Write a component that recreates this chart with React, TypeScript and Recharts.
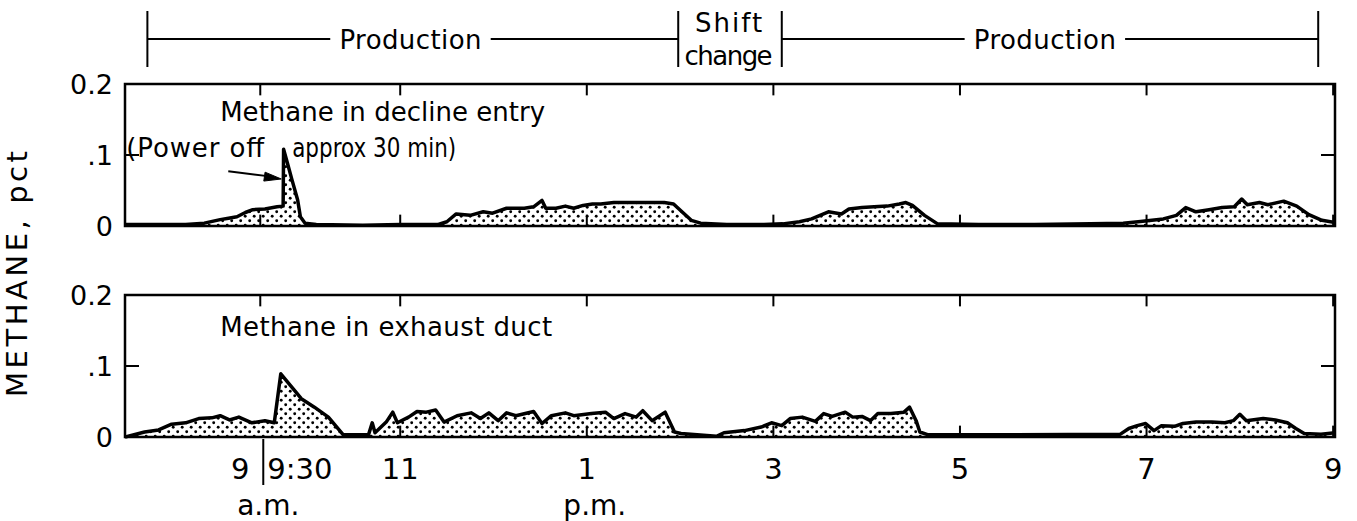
import React from "react";
import {
  AreaChart,
  Area,
  LineChart,
  Line,
  XAxis,
  YAxis,
  ReferenceLine,
  ReferenceArea,
  ReferenceDot,
} from "recharts";

const WIDTH = 1357;
const T_START = 8.05;
const T_END = 21.02;
const INK = "#000";
const FONT = "'DejaVu Sans', sans-serif";

// time of day on a 24 h clock
const hourTicks = [9.5, 11, 13, 15, 17, 19, 21];
const hourLabels = ["9:30", "11", "1", "3", "5", "7", "9"];
const periodLabels: Record<number, string> = { 9.5: "a.m.", 13: "p.m." };
const pctTicks = [0, 0.1, 0.2];
const pctLabels = ["0", ".1", "0.2"];

// production / shift change / production
const scheduleBounds = [8.29, 13.98, 15.09, 20.84];
const productionCenters = [11.11, 17.91];
const productionGap = 0.86;

// [hour, pct]
const declineEntry: [number, number][] = [
  [8.05, 0.002], [8.4, 0.002], [8.7, 0.002], [8.9, 0.004], [9.07, 0.009],
  [9.16, 0.011], [9.25, 0.013], [9.34, 0.019], [9.42, 0.023], [9.55, 0.024],
  [9.68, 0.027], [9.745, 0.028], [9.75, 0.108], [9.79, 0.089], [9.84, 0.065],
  [9.9, 0.037], [9.93, 0.013], [9.98, 0.004], [10.1, 0.002], [10.6, 0.001],
  [11.0, 0.002], [11.4, 0.002], [11.5, 0.006], [11.6, 0.017], [11.75, 0.015],
  [11.89, 0.02], [11.99, 0.018], [12.14, 0.025], [12.33, 0.025], [12.43, 0.027],
  [12.52, 0.036], [12.56, 0.025], [12.67, 0.025], [12.77, 0.028], [12.86, 0.025],
  [12.96, 0.029], [13.06, 0.031], [13.15, 0.031], [13.29, 0.033], [13.44, 0.033],
  [13.83, 0.033], [13.93, 0.031], [14.02, 0.02], [14.12, 0.008], [14.22, 0.004],
  [14.5, 0.002], [14.9, 0.002], [15.1, 0.003], [15.28, 0.006], [15.41, 0.01],
  [15.59, 0.02], [15.73, 0.017], [15.81, 0.024], [15.95, 0.026], [16.08, 0.027],
  [16.22, 0.028], [16.35, 0.031], [16.42, 0.033], [16.49, 0.029], [16.62, 0.015],
  [16.76, 0.003], [17.2, 0.002], [17.8, 0.002], [18.4, 0.003], [18.75, 0.004],
  [18.91, 0.006], [19.18, 0.01], [19.32, 0.015], [19.42, 0.026], [19.53, 0.02],
  [19.67, 0.023], [19.81, 0.026], [19.94, 0.027], [20.02, 0.038], [20.08, 0.03],
  [20.21, 0.033], [20.3, 0.03], [20.47, 0.035], [20.61, 0.028], [20.74, 0.016],
  [20.88, 0.008], [21.02, 0.005],
];

const exhaustDuct: [number, number][] = [
  [8.05, 0.0], [8.26, 0.007], [8.41, 0.01], [8.55, 0.018], [8.7, 0.02],
  [8.84, 0.026], [8.98, 0.027], [9.07, 0.03], [9.17, 0.024], [9.27, 0.028],
  [9.41, 0.02], [9.55, 0.023], [9.65, 0.02], [9.72, 0.089], [9.84, 0.07],
  [9.94, 0.054], [10.08, 0.042], [10.23, 0.028], [10.39, 0.003], [10.66, 0.003],
  [10.7, 0.02], [10.73, 0.006], [10.85, 0.021], [10.92, 0.035], [10.97, 0.02],
  [11.09, 0.028], [11.18, 0.036], [11.28, 0.035], [11.38, 0.038], [11.47, 0.021],
  [11.61, 0.03], [11.76, 0.034], [11.86, 0.026], [11.95, 0.034], [12.05, 0.023],
  [12.14, 0.034], [12.24, 0.03], [12.43, 0.036], [12.52, 0.019], [12.62, 0.03],
  [12.77, 0.034], [12.86, 0.03], [13.05, 0.033], [13.2, 0.035], [13.29, 0.026],
  [13.41, 0.033], [13.53, 0.028], [13.6, 0.037], [13.7, 0.023], [13.84, 0.035],
  [13.94, 0.007], [14.01, 0.005], [14.39, 0.001], [14.47, 0.006], [14.69, 0.009],
  [14.87, 0.014], [14.98, 0.02], [15.09, 0.016], [15.18, 0.026], [15.31, 0.028],
  [15.45, 0.022], [15.54, 0.033], [15.63, 0.029], [15.77, 0.035], [15.85, 0.028],
  [15.95, 0.029], [16.04, 0.023], [16.12, 0.033], [16.26, 0.033], [16.4, 0.035],
  [16.46, 0.042], [16.53, 0.023], [16.57, 0.007], [16.66, 0.003], [17.5, 0.003],
  [18.72, 0.004], [18.81, 0.012], [18.9, 0.016], [18.99, 0.019], [19.08, 0.009],
  [19.16, 0.016], [19.3, 0.015], [19.39, 0.019], [19.53, 0.021], [19.7, 0.021],
  [19.84, 0.02], [19.93, 0.023], [20.0, 0.032], [20.07, 0.023], [20.25, 0.026],
  [20.38, 0.024], [20.51, 0.02], [20.6, 0.012], [20.69, 0.005], [20.87, 0.004],
  [21.02, 0.006],
];

const toRows = (pts: [number, number][]) => pts.map(([t, v]) => ({ t, v }));

// bracket drawn as one broken line; null rows lift the pen
const scheduleRows = (() => {
  const rows: { t: number; y: number | null }[] = [];
  const spans = [
    [scheduleBounds[0], scheduleBounds[1]],
    [scheduleBounds[2], scheduleBounds[3]],
  ];
  spans.forEach(([a, b], i) => {
    const c = productionCenters[i];
    rows.push({ t: a, y: 0 }, { t: a, y: 1 }, { t: a, y: null });
    rows.push({ t: a, y: 0.5 }, { t: c - productionGap, y: 0.5 }, { t: c, y: null });
    rows.push({ t: c + productionGap, y: 0.5 }, { t: b, y: 0.5 }, { t: b, y: null });
    rows.push({ t: b, y: 0 }, { t: b, y: 1 }, { t: b, y: null });
  });
  return rows;
})();

type TextOpts = {
  anchor?: "start" | "middle" | "end";
  size?: number;
  length?: number;
  squeeze?: boolean;
};

const textLabel =
  (text: string, { anchor = "start", size = 26, length, squeeze }: TextOpts = {}) =>
  (props: any) => {
    const vb = props.viewBox ?? {};
    const x = (vb.x ?? 0) + (vb.width ?? 0) / 2;
    const y = (vb.y ?? 0) + (vb.height ?? 0) / 2;
    return (
      <text
        x={x}
        y={y}
        textAnchor={anchor}
        fontSize={size}
        fontFamily={FONT}
        fill={INK}
        textLength={length}
        lengthAdjust={squeeze ? "spacingAndGlyphs" : "spacing"}
      >
        {text}
      </text>
    );
  };

function HourTick({ x, y, payload }: any) {
  const v = payload.value;
  const label = hourLabels[hourTicks.indexOf(v)];
  const period = periodLabels[v];
  const txt = { fill: INK, fontSize: 29, fontFamily: FONT };
  if (v === 9.5) {
    return (
      <g>
        <line x1={x + 3} y1={y} x2={x + 3} y2={y + 46} stroke={INK} strokeWidth={2} />
        <text x={x - 20} y={y + 40} textAnchor="middle" {...txt}>9</text>
        <text x={x + 7} y={y + 40} textAnchor="start" {...txt}>{label}</text>
        <text x={x + 8} y={y + 76} textAnchor="middle" {...txt} fontSize={28}>{period}</text>
      </g>
    );
  }
  return (
    <g>
      <text x={x} y={y + 40} textAnchor="middle" {...txt}>{label}</text>
      {period && (
        <text x={x + 8} y={y + 76} textAnchor="middle" {...txt} fontSize={28}>{period}</text>
      )}
    </g>
  );
}

// arrowhead pointing along the shaft direction
const arrowHead = (p: any) => {
  const { cx, cy } = p;
  const a = Math.atan2(7.6, 53.7);
  const len = 17;
  const half = 4.5;
  const bx = cx - len * Math.cos(a);
  const by = cy - len * Math.sin(a);
  const px = -Math.sin(a) * half;
  const py = Math.cos(a) * half;
  return (
    <path
      d={`M${cx},${cy} L${bx + px},${by + py} L${bx - px},${by - py} Z`}
      fill={INK}
      stroke={INK}
      strokeWidth={1}
    />
  );
};

function Panel({
  id,
  points,
  top,
  withAxis,
  children,
}: {
  id: string;
  points: [number, number][];
  top: number;
  withAxis: boolean;
  children?: React.ReactNode;
}) {
  const innerX = hourTicks.filter((t) => t < T_END);
  const tickY = 0.016;
  const tickX = 0.15;
  return (
    <div style={{ position: "absolute", left: 0, top }}>
      <AreaChart
        width={WIDTH}
        height={withAxis ? 240 : 174}
        data={toRows(points)}
        margin={{ top: 14, right: 22, bottom: withAxis ? 0 : 18, left: 65 }}
      >
        <defs>
          <pattern id={id} width={9} height={9} patternUnits="userSpaceOnUse">
            <rect width={9} height={9} fill="#fff" />
            <circle cx={2.2} cy={2.2} r={1.45} fill={INK} />
            <circle cx={6.7} cy={6.7} r={1.45} fill={INK} />
          </pattern>
        </defs>
        <XAxis
          dataKey="t"
          type="number"
          domain={[T_START, T_END]}
          ticks={hourTicks}
          interval={0}
          allowDataOverflow
          hide={!withAxis}
          height={84}
          axisLine={false}
          tickLine={false}
          tickSize={0}
          tick={(p: any) => <HourTick {...p} />}
        />
        <YAxis
          type="number"
          domain={[0, 0.2]}
          ticks={pctTicks}
          interval={0}
          width={60}
          axisLine={false}
          tickLine={false}
          tickSize={0}
          tickMargin={12}
          tick={{ fill: INK, fontSize: 27, fontFamily: FONT }}
          tickFormatter={(v: number) => pctLabels[pctTicks.indexOf(v)] ?? ""}
        />
        <Area
          type="linear"
          dataKey="v"
          stroke={INK}
          strokeWidth={3.5}
          strokeLinejoin="round"
          fill={`url(#${id})`}
          fillOpacity={1}
          dot={false}
          activeDot={false}
          isAnimationActive={false}
        />
        <ReferenceArea
          x1={T_START}
          x2={T_END}
          y1={0}
          y2={0.2}
          fill="none"
          fillOpacity={0}
          stroke={INK}
          strokeWidth={2.5}
          ifOverflow="visible"
        />
        {innerX.map((t) => (
          <ReferenceLine
            key={`top-${t}`}
            segment={[{ x: t, y: 0.2 }, { x: t, y: 0.2 - tickY }]}
            stroke={INK}
            strokeWidth={2}
          />
        ))}
        {innerX
          .filter((t) => !(withAxis && t === 9.5))
          .map((t) => (
            <ReferenceLine
              key={`bot-${t}`}
              segment={[{ x: t, y: 0 }, { x: t, y: tickY }]}
              stroke={INK}
              strokeWidth={2}
            />
          ))}
        <ReferenceLine
          segment={[{ x: T_START, y: 0.1 }, { x: T_START + tickX, y: 0.1 }]}
          stroke={INK}
          strokeWidth={2}
        />
        <ReferenceLine
          segment={[{ x: T_END - tickX, y: 0.1 }, { x: T_END, y: 0.1 }]}
          stroke={INK}
          strokeWidth={2}
        />
        {children}
      </AreaChart>
    </div>
  );
}

function Schedule() {
  return (
    <div style={{ position: "absolute", left: 0, top: 0 }}>
      <LineChart
        width={WIDTH}
        height={80}
        data={scheduleRows}
        margin={{ top: 11, right: 22, bottom: 13, left: 125 }}
      >
        <XAxis dataKey="t" type="number" domain={[T_START, T_END]} hide />
        <YAxis type="number" domain={[0, 1]} hide />
        <Line
          type="linear"
          dataKey="y"
          stroke={INK}
          strokeWidth={2}
          dot={false}
          activeDot={false}
          connectNulls={false}
          isAnimationActive={false}
        />
        {productionCenters.map((c) => (
          <ReferenceDot
            key={c}
            x={c}
            y={0.32}
            r={0}
            fill="none"
            stroke="none"
            label={textLabel("Production", { anchor: "middle", length: 142 })}
          />
        ))}
        <ReferenceDot
          x={14.52}
          y={0.625}
          r={0}
          fill="none"
          stroke="none"
          label={textLabel("Shift", { anchor: "middle", length: 67 })}
        />
        <ReferenceDot
          x={14.52}
          y={0.036}
          r={0}
          fill="none"
          stroke="none"
          label={textLabel("change", { anchor: "middle", length: 88 })}
        />
      </LineChart>
    </div>
  );
}

export default function App() {
  return (
    <div
      style={{
        position: "relative",
        width: WIDTH,
        height: 521,
        background: "#fff",
        fontFamily: FONT,
        overflow: "hidden",
      }}
    >
      <style>{"body{margin:0}"}</style>
      <Schedule />
      <Panel id="dotsDecline" points={declineEntry} top={70} withAxis={false}>
        <ReferenceDot
          x={9.07}
          y={0.1475}
          r={0}
          fill="none"
          stroke="none"
          label={textLabel("Methane in decline entry", { length: 325 })}
        />
        <ReferenceDot
          x={8.063}
          y={0.097}
          r={0}
          fill="none"
          stroke="none"
          label={textLabel("(Power off", { length: 138 })}
        />
        <ReferenceDot
          x={9.842}
          y={0.097}
          r={0}
          fill="none"
          stroke="none"
          label={textLabel("approx 30 min)", { size: 27, length: 164, squeeze: true })}
        />
        <ReferenceLine
          segment={[{ x: 9.157, y: 0.077 }, { x: 9.6, y: 0.0699 }]}
          stroke={INK}
          strokeWidth={2}
        />
        <ReferenceDot x={9.725} y={0.0662} r={1} shape={arrowHead} />
      </Panel>
      <Panel id="dotsExhaust" points={exhaustDuct} top={281} withAxis>
        <ReferenceDot
          x={9.07}
          y={0.142}
          r={0}
          fill="none"
          stroke="none"
          label={textLabel("Methane in exhaust duct", { length: 332 })}
        />
      </Panel>
      <svg
        width={60}
        height={521}
        style={{ position: "absolute", left: 0, top: 0, pointerEvents: "none" }}
      >
        <text
          transform="translate(27,274) rotate(-90)"
          textAnchor="middle"
          fontSize={29}
          fontFamily={FONT}
          fill={INK}
          textLength={246}
          lengthAdjust="spacing"
        >
          METHANE, pct
        </text>
      </svg>
    </div>
  );
}
